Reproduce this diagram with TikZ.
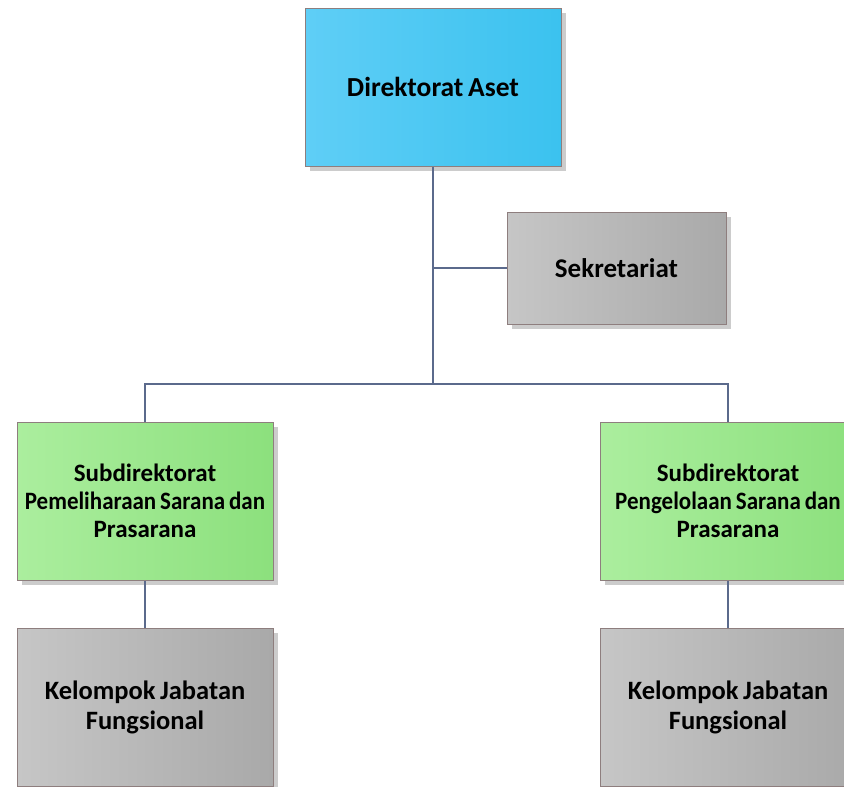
\documentclass[tikz,border=0pt]{standalone}
\usepackage{fontspec}
\setmainfont{Carlito}[WordSpace=0.75]
\usetikzlibrary{shadows}
\definecolor{linkline}{HTML}{5B6A8C}
\definecolor{boxedge}{HTML}{8E7E7E}
\definecolor{bluel}{HTML}{5FCEF6}
\definecolor{bluer}{HTML}{3BC2EF}
\definecolor{greenl}{HTML}{ABEE9E}
\definecolor{greenr}{HTML}{8CE07D}
\definecolor{grayl}{HTML}{C6C6C6}
\definecolor{grayr}{HTML}{A9A9A9}
\tikzset{
  unit/.style={draw=boxedge, line width=1pt, minimum width=256pt, align=center,
    font=\bfseries, shading=axis, shading angle=90,
    drop shadow={shadow xshift=5pt, shadow yshift=-5pt, fill=black!20, opacity=1}},
  bluebox/.style={unit, left color=bluel, right color=bluer},
  greenbox/.style={unit, left color=greenl, right color=greenr},
  graybox/.style={unit, left color=grayl, right color=grayr},
  link/.style={draw=linkline, line width=1.2pt}
}
\newcommand{\squeezeline}[1]{\scalebox{0.92}[1]{#1}}
\begin{document}
\begin{tikzpicture}[x=1pt, y=-1pt]
\useasboundingbox (0,0) rectangle (844,787);
\clip (0,0) rectangle (844,787);
% top level
\node[bluebox, minimum height=158pt, font=\bfseries\fontsize{27.5}{32}\selectfont] (dir) at (433,87) {Direktorat Aset};
\node[graybox, minimum width=219pt, minimum height=112pt, font=\bfseries\fontsize{27}{32}\selectfont] (sek) at (616.5,268) {Sekretariat};
% sub-directorates
\node[greenbox, minimum height=158pt, font=\bfseries\fontsize{25}{28}\selectfont] (sub1) at (145,501) {Subdirektorat\\\squeezeline{Pemeliharaan Sarana dan}\\Prasarana};
\node[greenbox, minimum height=158pt, font=\bfseries\fontsize{25}{28}\selectfont] (sub2) at (728,501) {Subdirektorat\\\squeezeline{Pengelolaan Sarana dan}\\Prasarana};
% functional groups
\node[graybox, minimum height=158pt, font=\bfseries\fontsize{26.5}{30}\selectfont] (kel1) at (145,707) {Kelompok Jabatan\\Fungsional};
\node[graybox, minimum height=158pt, font=\bfseries\fontsize{26.5}{30}\selectfont] (kel2) at (728,707) {Kelompok Jabatan\\Fungsional};
% connectors
\coordinate (sekjoin) at (dir.south |- sek.west);
\coordinate (split) at (433,384);
\draw[link] (dir.south) -- (split);
\draw[link] (sekjoin) -- (sek.west);
\draw[link] (sub1.north) |- (split) -| (sub2.north);
\draw[link] (sub1.south) -- (kel1.north);
\draw[link] (sub2.south) -- (kel2.north);
\end{tikzpicture}
\end{document}
